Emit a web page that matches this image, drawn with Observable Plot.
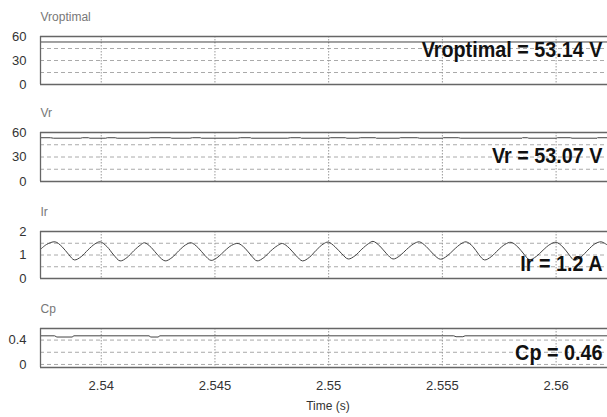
<!DOCTYPE html>
<html><head><meta charset="utf-8">
<script src="https://cdn.jsdelivr.net/npm/d3@7"></script>
<script src="https://cdn.jsdelivr.net/npm/@observablehq/plot@0.6"></script>
<style>
html,body{margin:0;padding:0;background:#fff;}
#chart{position:relative;width:607px;height:417px;overflow:hidden;background:#fff;}
#chart svg{position:absolute;left:0;}
</style></head><body><div id="chart"></div>
<script>
// ---- data ----
const xTicks = [2.54, 2.545, 2.55, 2.555, 2.56];
const xDomain = [2.53733, 2.56226];
const panelNames = ["Vroptimal", "Vr", "Ir", "Cp"];
const annotations = ["Vroptimal = 53.14 V", "Vr = 53.07 V", "Ir = 1.2 A", "Cp = 0.46"];
const xLabel = "Time (s)";

const yDomainV = [0, 60];
const yTicksV = [0, 30, 60];
const gridV = [15, 30, 45];
const yDomainI = [0, 2];
const yTicksI = [0, 1, 2];
const gridI = [0.5, 1, 1.5];
const yDomainC = [-0.05, 0.59];
const yTicksC = [0, 0.4];
const gridC = [0, 0.2, 0.4];

const vroptT = [2.53733, 2.56226];
const vroptV = [53.14, 53.14];

const vrT = [2.53733, 2.53777, 2.5379, 2.5391, 2.53917, 2.53944, 2.5395, 2.5402, 2.54027, 2.54062, 2.5407,
  2.5421, 2.54216, 2.54304, 2.5431, 2.5439, 2.54401, 2.54436, 2.5444, 2.5460, 2.54612, 2.54656, 2.5466,
  2.5482, 2.54832, 2.54876, 2.5488, 2.5500, 2.55008, 2.55074, 2.5508, 2.5513, 2.5514, 2.55206, 2.5521,
  2.5531, 2.55315, 2.5539, 2.5540, 2.5550, 2.55504, 2.5557, 2.5558, 2.5585, 2.55852, 2.55874, 2.5588,
  2.5600, 2.56006, 2.56063, 2.5607, 2.5618, 2.56182, 2.56226];
const vrV = [53.6, 53.6, 53.0, 53.0, 53.6, 53.6, 53.0, 53.0, 53.6, 53.6, 53.0,
  53.0, 53.6, 53.6, 53.0, 53.0, 53.6, 53.6, 53.0, 53.0, 53.6, 53.6, 53.0,
  53.0, 53.6, 53.6, 53.0, 53.0, 53.6, 53.6, 53.0, 53.0, 53.6, 53.6, 53.0,
  53.0, 53.6, 53.6, 53.0, 53.0, 53.6, 53.6, 53.0, 53.0, 53.6, 53.6, 53.0,
  53.0, 53.6, 53.6, 53.0, 53.0, 53.6, 53.6];

const irT = [2.53733, 2.5376, 2.53797, 2.53827, 2.53857, 2.53882, 2.53912, 2.53942, 2.53972,
  2.53995, 2.54025, 2.54055, 2.54083, 2.54113, 2.54143, 2.54173,
  2.5419, 2.5422, 2.5425, 2.54281, 2.54311, 2.54341, 2.54371,
  2.54395, 2.54425, 2.54455, 2.54483, 2.54513, 2.54543, 2.54573,
  2.54602, 2.54632, 2.5466, 2.54685, 2.54715, 2.54745, 2.54775,
  2.54797, 2.54827, 2.54857, 2.54885, 2.54915, 2.54945, 2.54975,
  2.54998, 2.55028, 2.55058, 2.55086, 2.55116, 2.55146, 2.55176,
  2.55195, 2.55225, 2.55255, 2.55283, 2.55313, 2.55343, 2.55373,
  2.55399, 2.55429, 2.55461, 2.55491, 2.55521, 2.55551, 2.55581,
  2.55604, 2.55634, 2.5566, 2.55685, 2.55715, 2.55745, 2.55775,
  2.55802, 2.55832, 2.5586, 2.55883, 2.55913, 2.55943, 2.55973,
  2.56, 2.5603, 2.56058, 2.5608, 2.5611, 2.5614, 2.5617,
  2.56198, 2.56226];
const irV = [1.24, 1.45, 1.56, 1.36, 1.02, 0.79, 0.93, 1.22, 1.47,
  1.56, 1.36, 1.00, 0.75, 0.89, 1.18, 1.43,
  1.52, 1.32, 0.98, 0.75, 0.89, 1.18, 1.43,
  1.52, 1.32, 0.99, 0.77, 0.91, 1.18, 1.41,
  1.49, 1.29, 0.97, 0.75, 0.89, 1.17, 1.40,
  1.49, 1.29, 0.97, 0.75, 0.90, 1.20, 1.46,
  1.55, 1.35, 1.05, 0.83, 0.97, 1.25, 1.49,
  1.58, 1.38, 1.05, 0.83, 0.97, 1.24, 1.47,
  1.56, 1.36, 1.03, 0.82, 0.96, 1.23, 1.47,
  1.56, 1.36, 1.02, 0.79, 0.93, 1.21, 1.45,
  1.54, 1.34, 1.02, 0.80, 0.94, 1.21, 1.45,
  1.54, 1.34, 1.00, 0.78, 0.92, 1.21, 1.47,
  1.56, 1.42];

const cpT = [2.53733, 2.53795, 2.53805, 2.53872, 2.5388, 2.5421, 2.54218, 2.5425, 2.54258, 2.5555, 2.5556, 2.5559, 2.556, 2.56226];
const cpV = [0.47, 0.47, 0.45, 0.45, 0.47, 0.47, 0.45, 0.45, 0.47, 0.47, 0.455, 0.455, 0.47, 0.47];

// ---- drawing ----
const zip = (T, V) => T.map((t, i) => ({t, v: V[i]}));
const panels = [
  {name: panelNames[0], ann: annotations[0], data: zip(vroptT, vroptV), yDomain: yDomainV, yTicks: yTicksV, grid: gridV, top: 36, bottom: 84, annDy: 5, curve: "linear"},
  {name: panelNames[1], ann: annotations[1], data: zip(vrT, vrV), yDomain: yDomainV, yTicks: yTicksV, grid: gridV, top: 132, bottom: 181, annDy: 15, curve: "linear"},
  {name: panelNames[2], ann: annotations[2], data: zip(irT, irV), yDomain: yDomainI, yTicks: yTicksI, grid: gridI, top: 231, bottom: 278, annDy: 23.5, curve: "catmull-rom"},
  {name: panelNames[3], ann: annotations[3], data: zip(cpT, cpV), yDomain: yDomainC, yTicks: yTicksC, grid: gridC, top: 328, bottom: 367, annDy: 16, curve: "linear", xAxis: true}
];

const chart = document.getElementById("chart");
const MT = 36;
for (const p of panels) {
  const mb = p.xAxis ? 417 - p.bottom : 6;
  const svg = Plot.plot({
    width: 607,
    height: MT + (p.bottom - p.top) + mb,
    marginLeft: 40, marginRight: 0, marginTop: MT, marginBottom: mb,
    style: {fontFamily: "'Liberation Sans', Arial, sans-serif", fontSize: "13px", color: "#333", background: "transparent", overflow: "visible"},
    x: {domain: xDomain, axis: null},
    y: {domain: p.yDomain, axis: null},
    marks: [
      Plot.gridY(p.grid, {stroke: "#aaa", strokeOpacity: 1, strokeDasharray: "4,3"}),
      Plot.gridX(xTicks, {stroke: "#999", strokeOpacity: 1, strokeDasharray: "1.5,1.5"}),
      Plot.axisY(p.yTicks, {tickSize: 0, tickPadding: 14, fontSize: 13, fill: "#333", label: null, tickFormat: d3.format("")}),
      p.xAxis ? Plot.axisX(xTicks, {tickSize: 0, tickPadding: 13, fontSize: 13, fill: "#333", label: null, tickFormat: d3.format("")}) : null,
      p.xAxis ? Plot.text([xLabel], {frameAnchor: "bottom", lineAnchor: "top", dy: 34, dx: 4, fontSize: 12, fill: "#333"}) : null,
      Plot.line(p.data, {x: "t", y: "v", stroke: "#444", strokeWidth: 1, curve: p.curve}),
      Plot.ruleY([p.yDomain[0], p.yDomain[1]], {stroke: "#666", strokeWidth: 1.3}),
      Plot.ruleX([xDomain[0]], {stroke: "#666", strokeWidth: 1.3}),
      Plot.text([p.name], {frameAnchor: "top-left", textAnchor: "start", lineAnchor: "top", dy: -24, fontSize: 12, fill: "#777"}),
      Plot.text([p.ann], {frameAnchor: "top-right", textAnchor: "end", lineAnchor: "top", dx: -5, dy: p.annDy, fontSize: 22, fontWeight: "bold", fill: "#111"})
    ]
  });
  svg.style.top = (p.top - MT) + "px";
  chart.appendChild(svg);
  // narrow the bold readouts horizontally, keeping their right edge fixed
  for (const t of svg.querySelectorAll('g[font-weight="bold"] text')) {
    const tr = t.getAttribute("transform") || "";
    t.setAttribute("transform", tr + " scale(0.9,1)");
  }
}
</script></body></html>
